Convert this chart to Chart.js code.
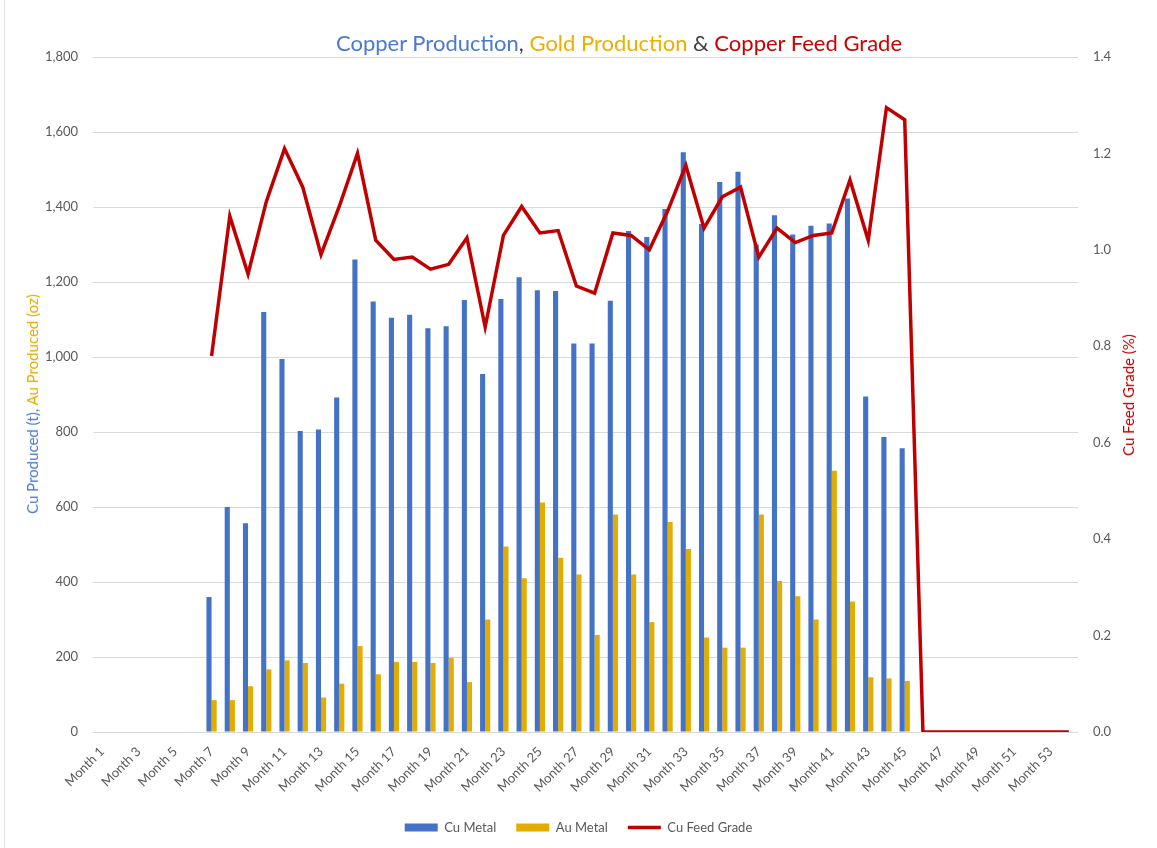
<!DOCTYPE html>
<html>
<head>
<meta charset="utf-8">
<title>Copper Production, Gold Production & Copper Feed Grade</title>
<script src="https://cdn.jsdelivr.net/npm/chart.js@4.4.1/dist/chart.umd.min.js"></script>
<style>
  html, body { margin: 0; padding: 0; background: #fff; }
  #wrap { position: relative; width: 1157px; height: 848px; overflow: hidden; }
  #wrap::before { content: ''; position: absolute; left: 4px; top: 0; bottom: 0; border-left: 1px solid #e4e4e4; }
  #chart { position: absolute; left: 0; top: 0; }
  .label { position: absolute; white-space: nowrap; font-family: Lato, "Noto Sans", sans-serif; }
  #title { left: 619px; top: 42px; transform: translate(-50%, -50%); font-size: 22px; color: #404040; }
  #ytitle { left: 32px; top: 404px; transform: translate(-50%, -50%) rotate(-90deg); font-size: 15px; }
  #y1title { left: 1128px; top: 395px; transform: translate(-50%, -50%) rotate(-90deg); font-size: 15px; color: #c00000; }
</style>
</head>
<body>
<div id="wrap">
  <canvas id="chart" width="1157" height="848"></canvas>
  <div id="title" class="label"><span style="color:#4a78d4">Copper Production</span>, <span style="color:#eaaf00">Gold Production</span> &amp; <span style="color:#cc0000">Copper Feed Grade</span></div>
  <div id="ytitle" class="label"><span style="color:#4a78d4">Cu Produced (t), </span><span style="color:#e3ac00">Au Produced (oz)</span></div>
  <div id="y1title" class="label">Cu Feed Grade (%)</div>
</div>
<script>
const months = Array.from({ length: 54 }, (_, i) => 'Month ' + (i + 1));

// tonnes of copper per month (no production in months 1-6 and 46-54)
const cuMetal = [null, null, null, null, null, null,
  360, 600, 557, 1120, 995, 803, 807, 892, 1260, 1148,
  1105, 1113, 1077, 1082, 1152, 955, 1155, 1213, 1178, 1176,
  1036, 1036, 1150, 1336, 1320, 1395, 1546, 1355, 1467, 1494,
  1300, 1378, 1327, 1350, 1356, 1423, 895, 787, 757,
  null, null, null, null, null, null, null, null, null];

// ounces of gold per month
const auMetal = [null, null, null, null, null, null,
  85, 85, 122, 167, 191, 184, 92, 129, 229, 154,
  187, 187, 184, 198, 133, 300, 495, 410, 612, 465,
  420, 259, 580, 420, 293, 560, 488, 252, 225, 225,
  580, 403, 362, 300, 697, 348, 146, 143, 136,
  null, null, null, null, null, null, null, null, null];

// copper feed grade, %
const cuFeedGrade = [null, null, null, null, null, null,
  0.78, 1.07, 0.95, 1.10, 1.21, 1.13, 0.99, 1.09, 1.20, 1.02,
  0.98, 0.985, 0.96, 0.97, 1.025, 0.84, 1.03, 1.09, 1.035, 1.04,
  0.925, 0.91, 1.035, 1.03, 1.00, 1.08, 1.175, 1.045, 1.11, 1.13,
  0.985, 1.045, 1.015, 1.03, 1.035, 1.145, 1.02, 1.295, 1.27,
  0, 0, 0, 0, 0, 0, 0, 0, 0];

const tickFont = { family: 'Lato', size: 13 };
const gray = '#595959';

const ctx = document.getElementById('chart').getContext('2d');
new Chart(ctx, {
  type: 'bar',
  data: {
    labels: months,
    datasets: [
      { label: 'Cu Metal', data: cuMetal, backgroundColor: '#4472c4', borderWidth: 0,
        yAxisID: 'y', order: 1, categoryPercentage: 0.56, barPercentage: 1 },
      { label: 'Au Metal', data: auMetal, backgroundColor: '#e3ac00', borderWidth: 0,
        yAxisID: 'y', order: 1, categoryPercentage: 0.56, barPercentage: 1 },
      { type: 'line', label: 'Cu Feed Grade', data: cuFeedGrade, yAxisID: 'y1', order: 0,
        borderColor: '#c00000', backgroundColor: '#c00000', borderWidth: 3.5,
        pointRadius: 0, tension: 0, spanGaps: false }
    ]
  },
  options: {
    responsive: false,
    animation: false,
    devicePixelRatio: 1,
    layout: { padding: { top: 57, left: 0, right: 0, bottom: 4 } },
    plugins: {
      title: { display: false },
      tooltip: { enabled: false },
      legend: {
        position: 'bottom',
        labels: {
          color: gray,
          font: { family: 'Lato', size: 13 },
          usePointStyle: true,
          pointStyleWidth: 33,
          boxHeight: 8,
          padding: 20,
          generateLabels(chart) {
            const items = Chart.defaults.plugins.legend.labels.generateLabels(chart);
            items.sort((a, b) => a.datasetIndex - b.datasetIndex);
            items.forEach(it => {
              if (it.datasetIndex === 2) {
                it.pointStyle = 'line';
                it.lineWidth = 3.5;
                it.strokeStyle = '#c00000';
              } else {
                it.pointStyle = 'rect';
                it.lineWidth = 0;
              }
            });
            return items;
          }
        }
      }
    },
    scales: {
      x: {
        grid: { display: false },
        border: { display: false },
        ticks: {
          autoSkip: false, maxRotation: 45, minRotation: 45,
          color: gray, font: tickFont, padding: 4,
          callback(v, i) { return i % 2 === 0 ? this.getLabelForValue(v) : ''; }
        },
        afterFit(s) { s.height = 69; }
      },
      y: {
        position: 'left',
        min: 0, max: 1800,
        grid: { color: '#d9d9d9', drawTicks: false },
        border: { display: false },
        ticks: {
          stepSize: 200, padding: 15, color: gray, font: tickFont,
          callback: v => v.toLocaleString('en-US')
        },
        afterFit(s) { s.width = 93; }
      },
      y1: {
        position: 'right',
        min: 0, max: 1.4,
        grid: { display: false, drawTicks: false },
        border: { display: false },
        ticks: {
          stepSize: 0.2, padding: 15, color: gray, font: tickFont,
          callback: v => v.toFixed(1)
        },
        afterFit(s) { s.width = 79; }
      }
    }
  }
});
</script>
</body>
</html>
